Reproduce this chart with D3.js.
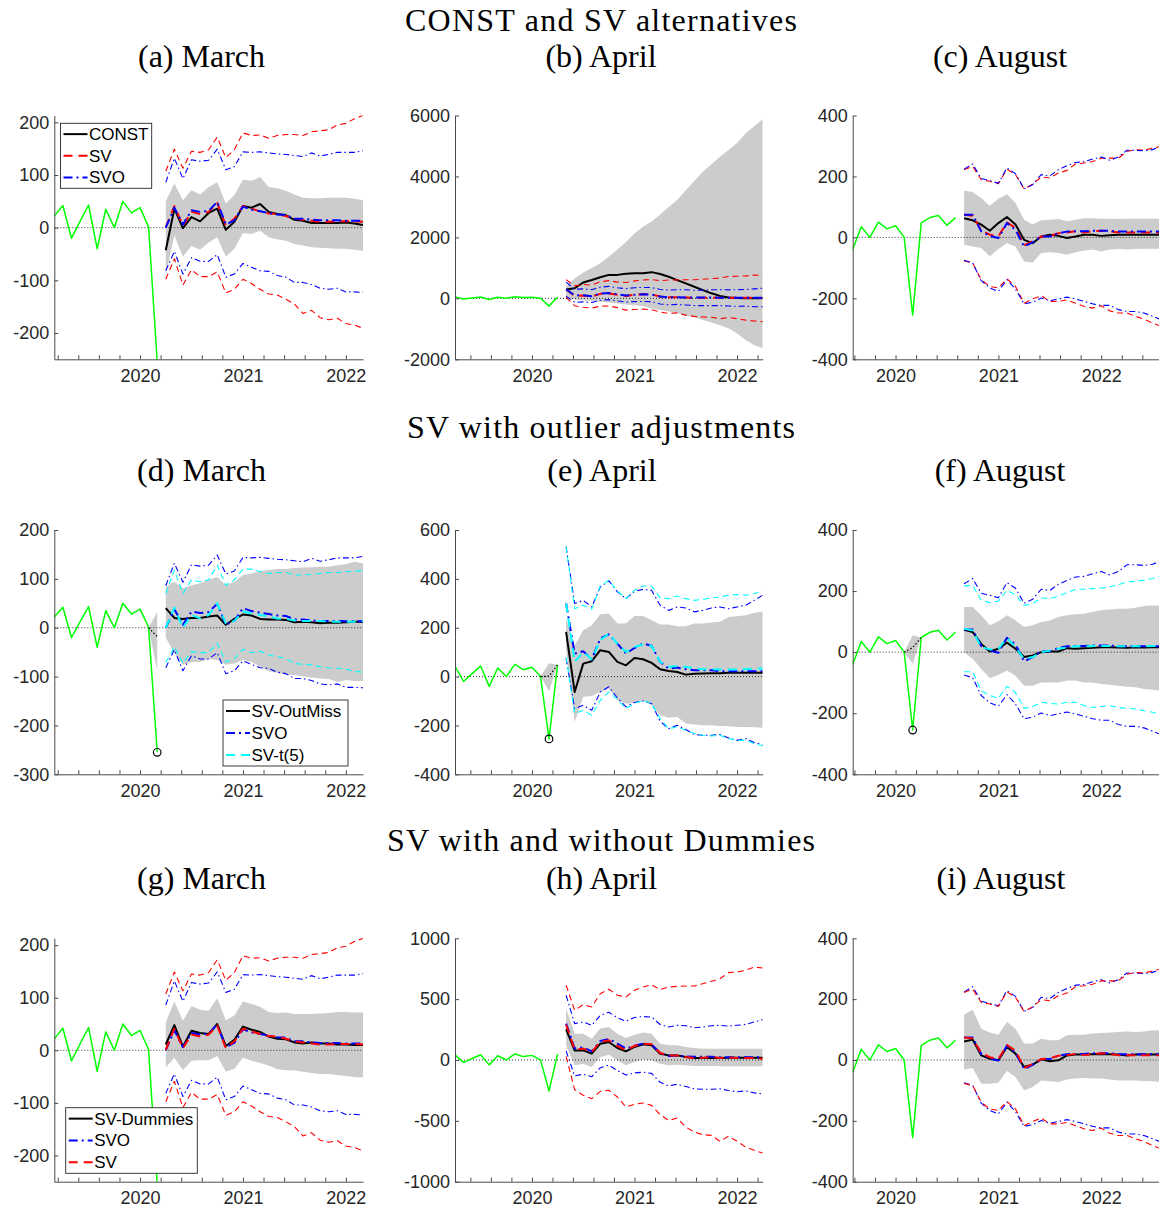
<!DOCTYPE html>
<html><head><meta charset="utf-8">
<script src="https://cdn.jsdelivr.net/npm/d3@7"></script>
<style>
body{margin:0;background:#fff;}
svg{display:block;}
.tick text{font-family:"Liberation Sans",Arial,sans-serif;font-size:18px;fill:#262626;}
.ttl{font-family:"Liberation Serif","Times New Roman",serif;font-size:32px;fill:#000;}
.leg{font-family:"Liberation Sans",Arial,sans-serif;font-size:17px;fill:#000;}
</style>
</head><body>
<svg id="c" width="1159" height="1210"></svg>
<script>
// ---------------- DATA ----------------
// observed series, months relative to Jan 2020 (t=0 is 2020-01)
const obsStartT = -10;
const obs = [22, 42, -20, 12, 43, -40, 35, 0, 50, 28, 38, 1, -255, 48, 65, 72, 40, 65];
const yearLabels = ["2020", "2021", "2022"];

// March vintage forecasts (t = 3 .. 26)
const marStart = 3;
const marCONST_med = [-43, 36, -1, 20, 12, 28, 36, -4, 11, 41, 38, 45, 30, 26, 24, 15, 13, 9, 9, 9, 9, 10, 8, 5];
const marCONST_hi  = [50, 84, 52, 71, 63, 77, 86, 46, 62, 91, 89, 96, 77, 75, 70, 63, 57, 56, 56, 57, 57, 57, 55, 52];
const marCONST_lo  = [-90, -15, -55, -35, -42, -28, -18, -55, -40, -10, -12, -6, -18, -22, -25, -31, -34, -37, -38, -39, -40, -40, -42, -44];
const marSV_med = [1, 41, 4, 30, 26, 30, 47, 4, 17, 41, 36, 31, 27, 26, 22, 17, 15, 13, 11, 11, 12, 12, 12, 11];
const marSV_hi  = [107, 149, 113, 145, 143, 148, 172, 133, 148, 180, 175, 176, 170, 175, 177, 177, 175, 182, 184, 186, 195, 198, 207, 213];
const marSV_lo  = [-98, -59, -109, -80, -93, -93, -84, -124, -117, -98, -106, -117, -126, -128, -136, -145, -163, -157, -171, -175, -172, -182, -185, -191];
const marSVO_med = [0, 38, 6, 33, 30, 32, 49, 6, 14, 40, 34, 31, 28, 25, 24, 17, 17, 15, 14, 14, 14, 13, 13, 13];
const marSVO_hi  = [86, 132, 93, 129, 126, 128, 149, 110, 116, 144, 143, 144, 142, 140, 139, 137, 135, 142, 136, 139, 143, 143, 143, 146];
const marSVO_lo  = [-82, -45, -88, -57, -64, -64, -51, -94, -88, -68, -75, -82, -83, -91, -94, -104, -104, -108, -115, -117, -115, -122, -122, -123];
const marOut_med = [40, 20, 18, 20, 20, 23, 25, 6, 18, 27, 25, 18, 17, 17, 16, 11, 12, 11, 9, 10, 10, 11, 12, 12];
const marOut_hi  = [84, 94, 81, 87, 91, 98, 104, 87, 94, 108, 111, 116, 118, 120, 120, 122, 123, 124, 125, 125, 128, 130, 135, 132];
const marOut_lo  = [-20, -53, -76, -70, -70, -64, -66, -76, -73, -66, -70, -80, -89, -92, -96, -97, -100, -102, -104, -105, -111, -107, -109, -109];
const marT5_med = [0, 41, 0, 26, 19, 26, 50, 9, 14, 33, 29, 26, 23, 19, 18, 15, 14, 14, 14, 12, 12, 12, 12, 14];
const marT5_hi  = [70, 118, 70, 98, 94, 98, 128, 87, 98, 120, 120, 115, 111, 113, 113, 108, 108, 109, 111, 113, 113, 115, 115, 118];
const marT5_lo  = [-71, -39, -73, -49, -51, -51, -32, -70, -64, -44, -51, -48, -56, -59, -63, -73, -75, -76, -80, -82, -83, -85, -89, -91];
const marDum_med = [11, 48, 7, 37, 33, 31, 50, 8, 20, 45, 39, 35, 26, 22, 21, 15, 13, 15, 13, 13, 11, 11, 10, 10];
const marDum_hi  = [53, 93, 56, 84, 77, 75, 99, 57, 66, 93, 88, 83, 73, 71, 72, 69, 69, 69, 70, 71, 73, 73, 72, 72];
const marDum_lo  = [-33, -14, -38, -20, -19, -19, -11, -41, -35, -14, -20, -24, -29, -36, -38, -38, -41, -43, -45, -45, -47, -49, -51, -52];

// April vintage forecasts (t = 4 .. 27)
const aprStart = 4;
const aprCONST_med = [290, 330, 520, 600, 690, 770, 770, 810, 820, 820, 860, 800, 710, 600, 490, 380, 270, 165, 80, 30, 10, 5, 0, 0];
const aprCONST_hi  = [400, 650, 850, 1000, 1150, 1370, 1600, 1850, 2130, 2350, 2520, 2750, 3000, 3230, 3550, 3850, 4160, 4400, 4650, 4870, 5100, 5420, 5650, 5880];
const aprCONST_lo  = [-20, -40, -60, -90, -110, -140, -170, -200, -230, -260, -330, -380, -430, -490, -560, -630, -710, -790, -880, -985, -1150, -1370, -1530, -1640];
const aprSV_med = [290, 85, 93, 66, 148, 162, 115, 80, 115, 134, 129, 58, 38, 38, 25, 16, 19, 25, 16, 22, 16, 16, 16, 11];
const aprSV_hi  = [614, 408, 455, 436, 545, 581, 532, 518, 573, 600, 619, 578, 600, 605, 608, 608, 627, 647, 668, 718, 723, 737, 764, 756];
const aprSV_lo  = [30, -244, -290, -318, -258, -249, -304, -386, -364, -353, -373, -449, -496, -477, -551, -592, -614, -619, -668, -627, -668, -715, -742, -764];
const aprSVO_med = [299, 94, 104, 71, 156, 173, 135, 94, 117, 135, 126, 60, 33, 37, 30, 26, 26, 26, 22, 22, 22, 22, 22, 22];
const aprSVO_hi  = [532, 299, 312, 285, 367, 392, 347, 319, 349, 357, 353, 292, 271, 285, 281, 265, 271, 281, 285, 278, 285, 292, 312, 333];
const aprSVO_lo  = [74, -131, -117, -138, -63, -42, -87, -124, -106, -100, -110, -183, -213, -199, -217, -237, -240, -240, -237, -251, -261, -254, -270, -278];
const aprOut_med = [183, -63, 53, 63, 108, 101, 60, 46, 76, 71, 56, 30, 23, 19, 8, 12, 13, 14, 14, 16, 16, 16, 16, 16];
const aprOut_hi  = [240, 128, 190, 210, 255, 258, 217, 217, 248, 248, 231, 213, 213, 206, 206, 217, 217, 221, 224, 244, 247, 251, 261, 265];
const aprOut_lo  = [110, -186, -83, -80, -63, -49, -97, -111, -108, -97, -117, -158, -169, -165, -192, -196, -199, -199, -202, -203, -206, -206, -207, -209];
const aprT5_med = [299, 60, 101, 71, 149, 176, 135, 101, 121, 131, 126, 60, 40, 42, 40, 33, 30, 30, 29, 29, 29, 30, 33, 33];
const aprT5_hi  = [531, 278, 292, 276, 371, 394, 350, 319, 353, 371, 371, 322, 319, 330, 319, 312, 316, 322, 326, 333, 336, 333, 340, 349];
const aprT5_lo  = [80, -151, -138, -158, -97, -63, -94, -131, -110, -97, -110, -172, -213, -206, -220, -233, -240, -243, -240, -254, -261, -261, -274, -284];
const aprDum_med = [252, 79, 79, 52, 134, 148, 99, 71, 107, 129, 121, 52, 38, 38, 25, 16, 16, 19, 16, 19, 19, 19, 19, 19];
const aprDum_hi  = [422, 216, 216, 175, 258, 271, 216, 181, 208, 225, 216, 134, 121, 121, 107, 99, 93, 93, 93, 93, 93, 93, 93, 93];
const aprDum_lo  = [120, -44, -30, -58, 25, 44, -3, -44, -16, 5, -3, -30, -44, -38, -44, -49, -49, -49, -52, -52, -52, -52, -52, -52];

// August vintage forecasts (t = 8 .. 31)
const augStart = 8;
const augCONST_med = [63, 56, 42, 22, 47, 67, 42, -8, -19, 3, 9, 5, -2, 3, 9, 9, 5, 7, 9, 9, 9, 9, 9, 9];
const augCONST_hi  = [154, 149, 129, 104, 127, 142, 113, 58, 42, 56, 58, 60, 53, 58, 63, 63, 61, 61, 60, 61, 61, 61, 61, 61];
const augCONST_lo  = [-24, -30, -35, -62, -38, -19, -30, -79, -82, -51, -49, -51, -57, -49, -43, -40, -46, -40, -38, -40, -38, -37, -37, -37];
const augSV_med = [74, 71, 23, 9, 3, 49, 31, -26, -13, 3, 5, 14, 16, 20, 16, 20, 22, 20, 16, 16, 16, 16, 16, 16];
const augSV_hi  = [222, 233, 189, 184, 176, 224, 206, 159, 175, 198, 195, 211, 220, 241, 244, 249, 260, 260, 260, 282, 288, 286, 293, 299];
const augSV_lo  = [-77, -84, -139, -161, -166, -136, -161, -216, -202, -191, -210, -210, -205, -216, -226, -232, -224, -241, -248, -248, -259, -268, -281, -292];
const augSVO_med = [74, 74, 20, 5, -2, 47, 25, -30, -16, 3, 3, 14, 19, 20, 20, 22, 22, 22, 19, 19, 19, 19, 19, 19];
const augSVO_hi  = [224, 241, 193, 186, 178, 228, 209, 160, 173, 206, 202, 222, 235, 246, 248, 257, 264, 253, 264, 286, 286, 284, 288, 299];
const augSVO_lo  = [-75, -84, -142, -166, -177, -139, -170, -218, -213, -199, -208, -202, -196, -202, -210, -218, -223, -223, -237, -243, -243, -248, -259, -270];
const augOut_med = [73, 66, 27, 2, 11, 31, 11, -16, -11, 0, 2, 2, 13, 11, 13, 14, 16, 16, 15, 14, 16, 15, 16, 16];
const augOut_hi  = [148, 148, 121, 88, 101, 121, 104, 82, 88, 99, 104, 115, 121, 124, 126, 132, 137, 140, 142, 142, 145, 151, 153, 153];
const augOut_lo  = [0, -22, -55, -85, -75, -60, -77, -110, -110, -99, -99, -99, -93, -93, -99, -99, -104, -107, -110, -113, -115, -121, -123, -126];
const augT5_med = [77, 71, 16, 9, 11, 46, 16, -22, -16, 0, 5, 11, 15, 19, 19, 20, 20, 20, 19, 19, 19, 19, 20, 20];
const augT5_hi  = [217, 219, 170, 162, 167, 203, 188, 153, 159, 178, 175, 183, 195, 206, 206, 208, 210, 214, 221, 230, 232, 236, 241, 249];
const augT5_lo  = [-64, -64, -126, -142, -151, -112, -132, -184, -178, -164, -168, -170, -164, -164, -175, -181, -178, -175, -181, -184, -186, -192, -197, -205];
const augDum_med = [61, 67, 15, 4, -1, 43, 21, -23, -15, 2, -4, -1, 15, 18, 18, 19, 20, 19, 18, 15, 18, 18, 18, 18];
const augDum_hi  = [149, 165, 103, 90, 83, 125, 103, 54, 54, 70, 65, 65, 81, 83, 83, 87, 89, 90, 92, 94, 92, 94, 98, 98];
const augDum_lo  = [-31, -26, -78, -78, -75, -36, -56, -100, -89, -67, -70, -72, -64, -61, -59, -61, -61, -64, -67, -67, -67, -69, -70, -72];

// outlier (missing) nowcasts for SV-OutMiss
const nowMar_t = [1, 2], nowMar_med = [0, -18], nowMar_lo = [0, -88], nowMar_hi = [0, 32];
const nowApr_t = [1, 2, 3], nowApr_med = [0, 2, 48], nowApr_lo = [0, -60, 48], nowApr_hi = [0, 55, 48];
const nowAug_t = [1, 2, 3], nowAug_med = [0, 15, 48], nowAug_lo = [0, -38, 48], nowAug_hi = [0, 55, 48];
const outlierT = 2, outlierV = -255;

const rowTitles = ["CONST and SV alternatives", "SV with outlier adjustments", "SV with and without Dummies"];
const panelTitles = [["(a) March", "(b) April", "(c) August"], ["(d) March", "(e) April", "(f) August"], ["(g) March", "(h) April", "(i) August"]];

// ---------------- LAYOUT ----------------
const svg = d3.select("#c");
const cols = [{x0: 54.3, x1: 363, dom: [-10, 26]}, {x0: 455, x1: 762.7, dom: [-9, 27]}, {x0: 852.7, x1: 1161.2, dom: [-5, 31]}];
const rows = [{y0: 115.5, y1: 359.3}, {y0: 530, y1: 774.3}, {y0: 938.3, y1: 1181.7}];
const rowTitleY = [31, 438, 851], rowTitleW = [392, 388, 428];
const subTitleY = [67, 481, 889];
const subX = [[201.5, 601, 1000], [201.5, 602, 1000], [201.5, 601.5, 1001]];

const STY = {
  black: {c: "#000000", thin: null, thick: null},
  red:   {c: "#ff0000", thin: "6,4", thick: "9,6"},
  blue:  {c: "#0000ff", thin: "6,3,1.5,3", thick: "9,4,2,4"},
  cyan:  {c: "#00ffff", thin: "6,4", thick: "9,6"}
};

const M = (name, style, med, lo, hi) => ({name, style, med, lo, hi});
const panels = [
  {r:0,c:0, yDom:[-250,213], yTicks:[-200,-100,0,100,200], obsEnd:2, start:marStart, gray:[marCONST_lo, marCONST_hi],
   models:[M("CONST","black",marCONST_med), M("SV","red",marSV_med,marSV_lo,marSV_hi), M("SVO","blue",marSVO_med,marSVO_lo,marSVO_hi)],
   legend:{x:60.5,y:123.3,w:91.2,h:65}},
  {r:0,c:1, yDom:[-2000,6000], yTicks:[-2000,0,2000,4000,6000], obsEnd:3, start:aprStart, gray:[aprCONST_lo, aprCONST_hi],
   models:[M("CONST","black",aprCONST_med), M("SV","red",aprSV_med,aprSV_lo,aprSV_hi), M("SVO","blue",aprSVO_med,aprSVO_lo,aprSVO_hi)]},
  {r:0,c:2, yDom:[-400,400], yTicks:[-400,-200,0,200,400], obsEnd:7, start:augStart, gray:[augCONST_lo, augCONST_hi],
   models:[M("CONST","black",augCONST_med), M("SV","red",augSV_med,augSV_lo,augSV_hi), M("SVO","blue",augSVO_med,augSVO_lo,augSVO_hi)]},
  {r:1,c:0, yDom:[-300,200], yTicks:[-300,-200,-100,0,100,200], obsEnd:2, start:marStart, gray:[marOut_lo, marOut_hi],
   now:{t:nowMar_t, med:nowMar_med, lo:nowMar_lo, hi:nowMar_hi}, circle:true,
   models:[M("SV-OutMiss","black",marOut_med), M("SVO","blue",marSVO_med,marSVO_lo,marSVO_hi), M("SV-t(5)","cyan",marT5_med,marT5_lo,marT5_hi)],
   legend:{x:223,y:700,w:125,h:66}},
  {r:1,c:1, yDom:[-400,600], yTicks:[-400,-200,0,200,400,600], obsEnd:3, start:aprStart, gray:[aprOut_lo, aprOut_hi],
   now:{t:nowApr_t, med:nowApr_med, lo:nowApr_lo, hi:nowApr_hi}, circle:true,
   models:[M("SV-OutMiss","black",aprOut_med), M("SVO","blue",aprSVO_med,aprSVO_lo,aprSVO_hi), M("SV-t(5)","cyan",aprT5_med,aprT5_lo,aprT5_hi)]},
  {r:1,c:2, yDom:[-400,400], yTicks:[-400,-200,0,200,400], obsEnd:7, start:augStart, gray:[augOut_lo, augOut_hi],
   now:{t:nowAug_t, med:nowAug_med, lo:nowAug_lo, hi:nowAug_hi}, circle:true,
   models:[M("SV-OutMiss","black",augOut_med), M("SVO","blue",augSVO_med,augSVO_lo,augSVO_hi), M("SV-t(5)","cyan",augT5_med,augT5_lo,augT5_hi)]},
  {r:2,c:0, yDom:[-250,213], yTicks:[-200,-100,0,100,200], obsEnd:2, start:marStart, gray:[marDum_lo, marDum_hi],
   models:[M("SV-Dummies","black",marDum_med), M("SVO","blue",marSVO_med,marSVO_lo,marSVO_hi), M("SV","red",marSV_med,marSV_lo,marSV_hi)],
   legend:{x:65.7,y:1107.7,w:131.6,h:65.6}},
  {r:2,c:1, yDom:[-1000,1000], yTicks:[-1000,-500,0,500,1000], obsEnd:3, start:aprStart, gray:[aprDum_lo, aprDum_hi],
   models:[M("SV-Dummies","black",aprDum_med), M("SVO","blue",aprSVO_med,aprSVO_lo,aprSVO_hi), M("SV","red",aprSV_med,aprSV_lo,aprSV_hi)]},
  {r:2,c:2, yDom:[-400,400], yTicks:[-400,-200,0,200,400], obsEnd:7, start:augStart, gray:[augDum_lo, augDum_hi],
   models:[M("SV-Dummies","black",augDum_med), M("SVO","blue",augSVO_med,augSVO_lo,augSVO_hi), M("SV","red",augSV_med,augSV_lo,augSV_hi)]}
];

// titles
rowTitles.forEach((t, i) => {
  svg.append("text").attr("class", "ttl").attr("x", 601).attr("y", rowTitleY[i])
    .attr("text-anchor", "middle").attr("textLength", rowTitleW[i]).attr("lengthAdjust", "spacing").text(t);
  panelTitles[i].forEach((s, j) => {
    svg.append("text").attr("class", "ttl").attr("x", subX[i][j]).attr("y", subTitleY[i])
      .attr("text-anchor", "middle").text(s);
  });
});

function styleLine(sel, st, thick) {
  const s = STY[st];
  sel.attr("fill", "none").attr("stroke", s.c).attr("stroke-width", thick ? 2 : 1.1)
     .attr("stroke-linejoin", "round");
  const d = thick ? s.thick : s.thin;
  if (d) sel.attr("stroke-dasharray", d);
  return sel;
}

panels.forEach((p, pi) => {
  const C = cols[p.c], R = rows[p.r];
  const x = d3.scaleLinear().domain(C.dom).range([C.x0, C.x1]);
  const y = d3.scaleLinear().domain(p.yDom).range([R.y1, R.y0]);
  const g = svg.append("g");
  const cid = "clip" + pi;
  g.append("clipPath").attr("id", cid).append("rect")
    .attr("x", C.x0).attr("y", R.y0).attr("width", C.x1 - C.x0).attr("height", R.y1 - R.y0);
  const pg = g.append("g").attr("clip-path", `url(#${cid})`);

  const fcT = d3.range(p.start, p.start + 24);
  const area = d3.area().x(d => x(d.t)).y0(d => y(d.lo)).y1(d => y(d.hi));
  const line = d3.line().x(d => x(d[0])).y(d => y(d[1]));

  // gray band
  pg.append("path").datum(fcT.map((t, i) => ({t, lo: p.gray[0][i], hi: p.gray[1][i]})))
    .attr("d", area).attr("fill", "#cccccc").attr("stroke", "none");
  if (p.now) {
    pg.append("path").datum(p.now.t.map((t, i) => ({t, lo: p.now.lo[i], hi: p.now.hi[i]})))
      .attr("d", area).attr("fill", "#cccccc").attr("stroke", "none");
  }
  // zero line
  pg.append("line").attr("x1", C.x0).attr("x2", C.x1).attr("y1", y(0)).attr("y2", y(0))
    .attr("stroke", "#000").attr("stroke-width", 0.8).attr("stroke-dasharray", "1,2");
  // observed
  const obsPts = obs.map((v, i) => [obsStartT + i, v]).filter(d => d[0] >= C.dom[0] - 1 && d[0] <= p.obsEnd);
  pg.append("path").datum(obsPts).attr("d", line).attr("fill", "none")
    .attr("stroke", "#00ff00").attr("stroke-width", 1.5).attr("stroke-linejoin", "round");
  if (p.now) {
    pg.append("path").datum(p.now.t.map((t, i) => [t, p.now.med[i]])).attr("d", line)
      .attr("fill", "none").attr("stroke", "#000").attr("stroke-width", 1.2).attr("stroke-dasharray", "1.5,2");
  }
  if (p.circle) {
    pg.append("circle").attr("cx", x(outlierT)).attr("cy", y(outlierV)).attr("r", 3.8)
      .attr("fill", "none").attr("stroke", "#000").attr("stroke-width", 1.2);
  }
  // models
  p.models.forEach(m => {
    if (m.lo) {
      styleLine(pg.append("path").datum(fcT.map((t, i) => [t, m.lo[i]])).attr("d", line), m.style, false);
      styleLine(pg.append("path").datum(fcT.map((t, i) => [t, m.hi[i]])).attr("d", line), m.style, false);
    }
    styleLine(pg.append("path").datum(fcT.map((t, i) => [t, m.med[i]])).attr("d", line), m.style, true);
  });

  // axes
  const ax = g.append("g");
  const ya = d3.axisLeft(y).tickValues(p.yTicks).tickSize(-4).tickSizeOuter(0).tickPadding(5).tickFormat(d => String(d));
  const xt = [];
  for (let k = -10; k <= 15; k++) { const t = 2.4 * k; if (t >= C.dom[0] - 1e-9 && t <= C.dom[1] + 1e-9) xt.push(t); }
  const xa = d3.axisBottom(x).tickValues(xt).tickSize(-4).tickSizeOuter(0).tickPadding(10)
    .tickFormat(t => { const yi = Math.round(t / 12); return Math.abs(t - yi * 12) < 1e-6 && yi >= 0 && yi < yearLabels.length ? yearLabels[yi] : ""; });
  const yg = ax.append("g").attr("transform", `translate(${C.x0},0)`).call(ya);
  const xg = ax.append("g").attr("transform", `translate(0,${R.y1})`).call(xa);
  [yg, xg].forEach(a => {
    a.selectAll("path.domain").attr("stroke", "#4a4a4a").attr("stroke-width", 1);
    a.selectAll(".tick line").attr("stroke", "#4a4a4a").attr("stroke-width", 1);
    a.selectAll(".tick text").attr("font-family", null).attr("font-size", null);
  });

  // legend
  if (p.legend) {
    const L = p.legend;
    const lg = g.append("g");
    lg.append("rect").attr("x", L.x).attr("y", L.y).attr("width", L.w).attr("height", L.h)
      .attr("fill", "#fff").attr("stroke", "#262626").attr("stroke-width", 0.9);
    p.models.forEach((m, i) => {
      const cy = L.y + L.h * (2 * i + 1) / 6;
      styleLine(lg.append("line").attr("x1", L.x + 3).attr("x2", L.x + 27).attr("y1", cy).attr("y2", cy), m.style, true);
      lg.append("text").attr("class", "leg").attr("x", L.x + 28.5).attr("y", cy).attr("dy", "0.35em").text(m.name);
    });
  }
});
</script>
</body></html>
